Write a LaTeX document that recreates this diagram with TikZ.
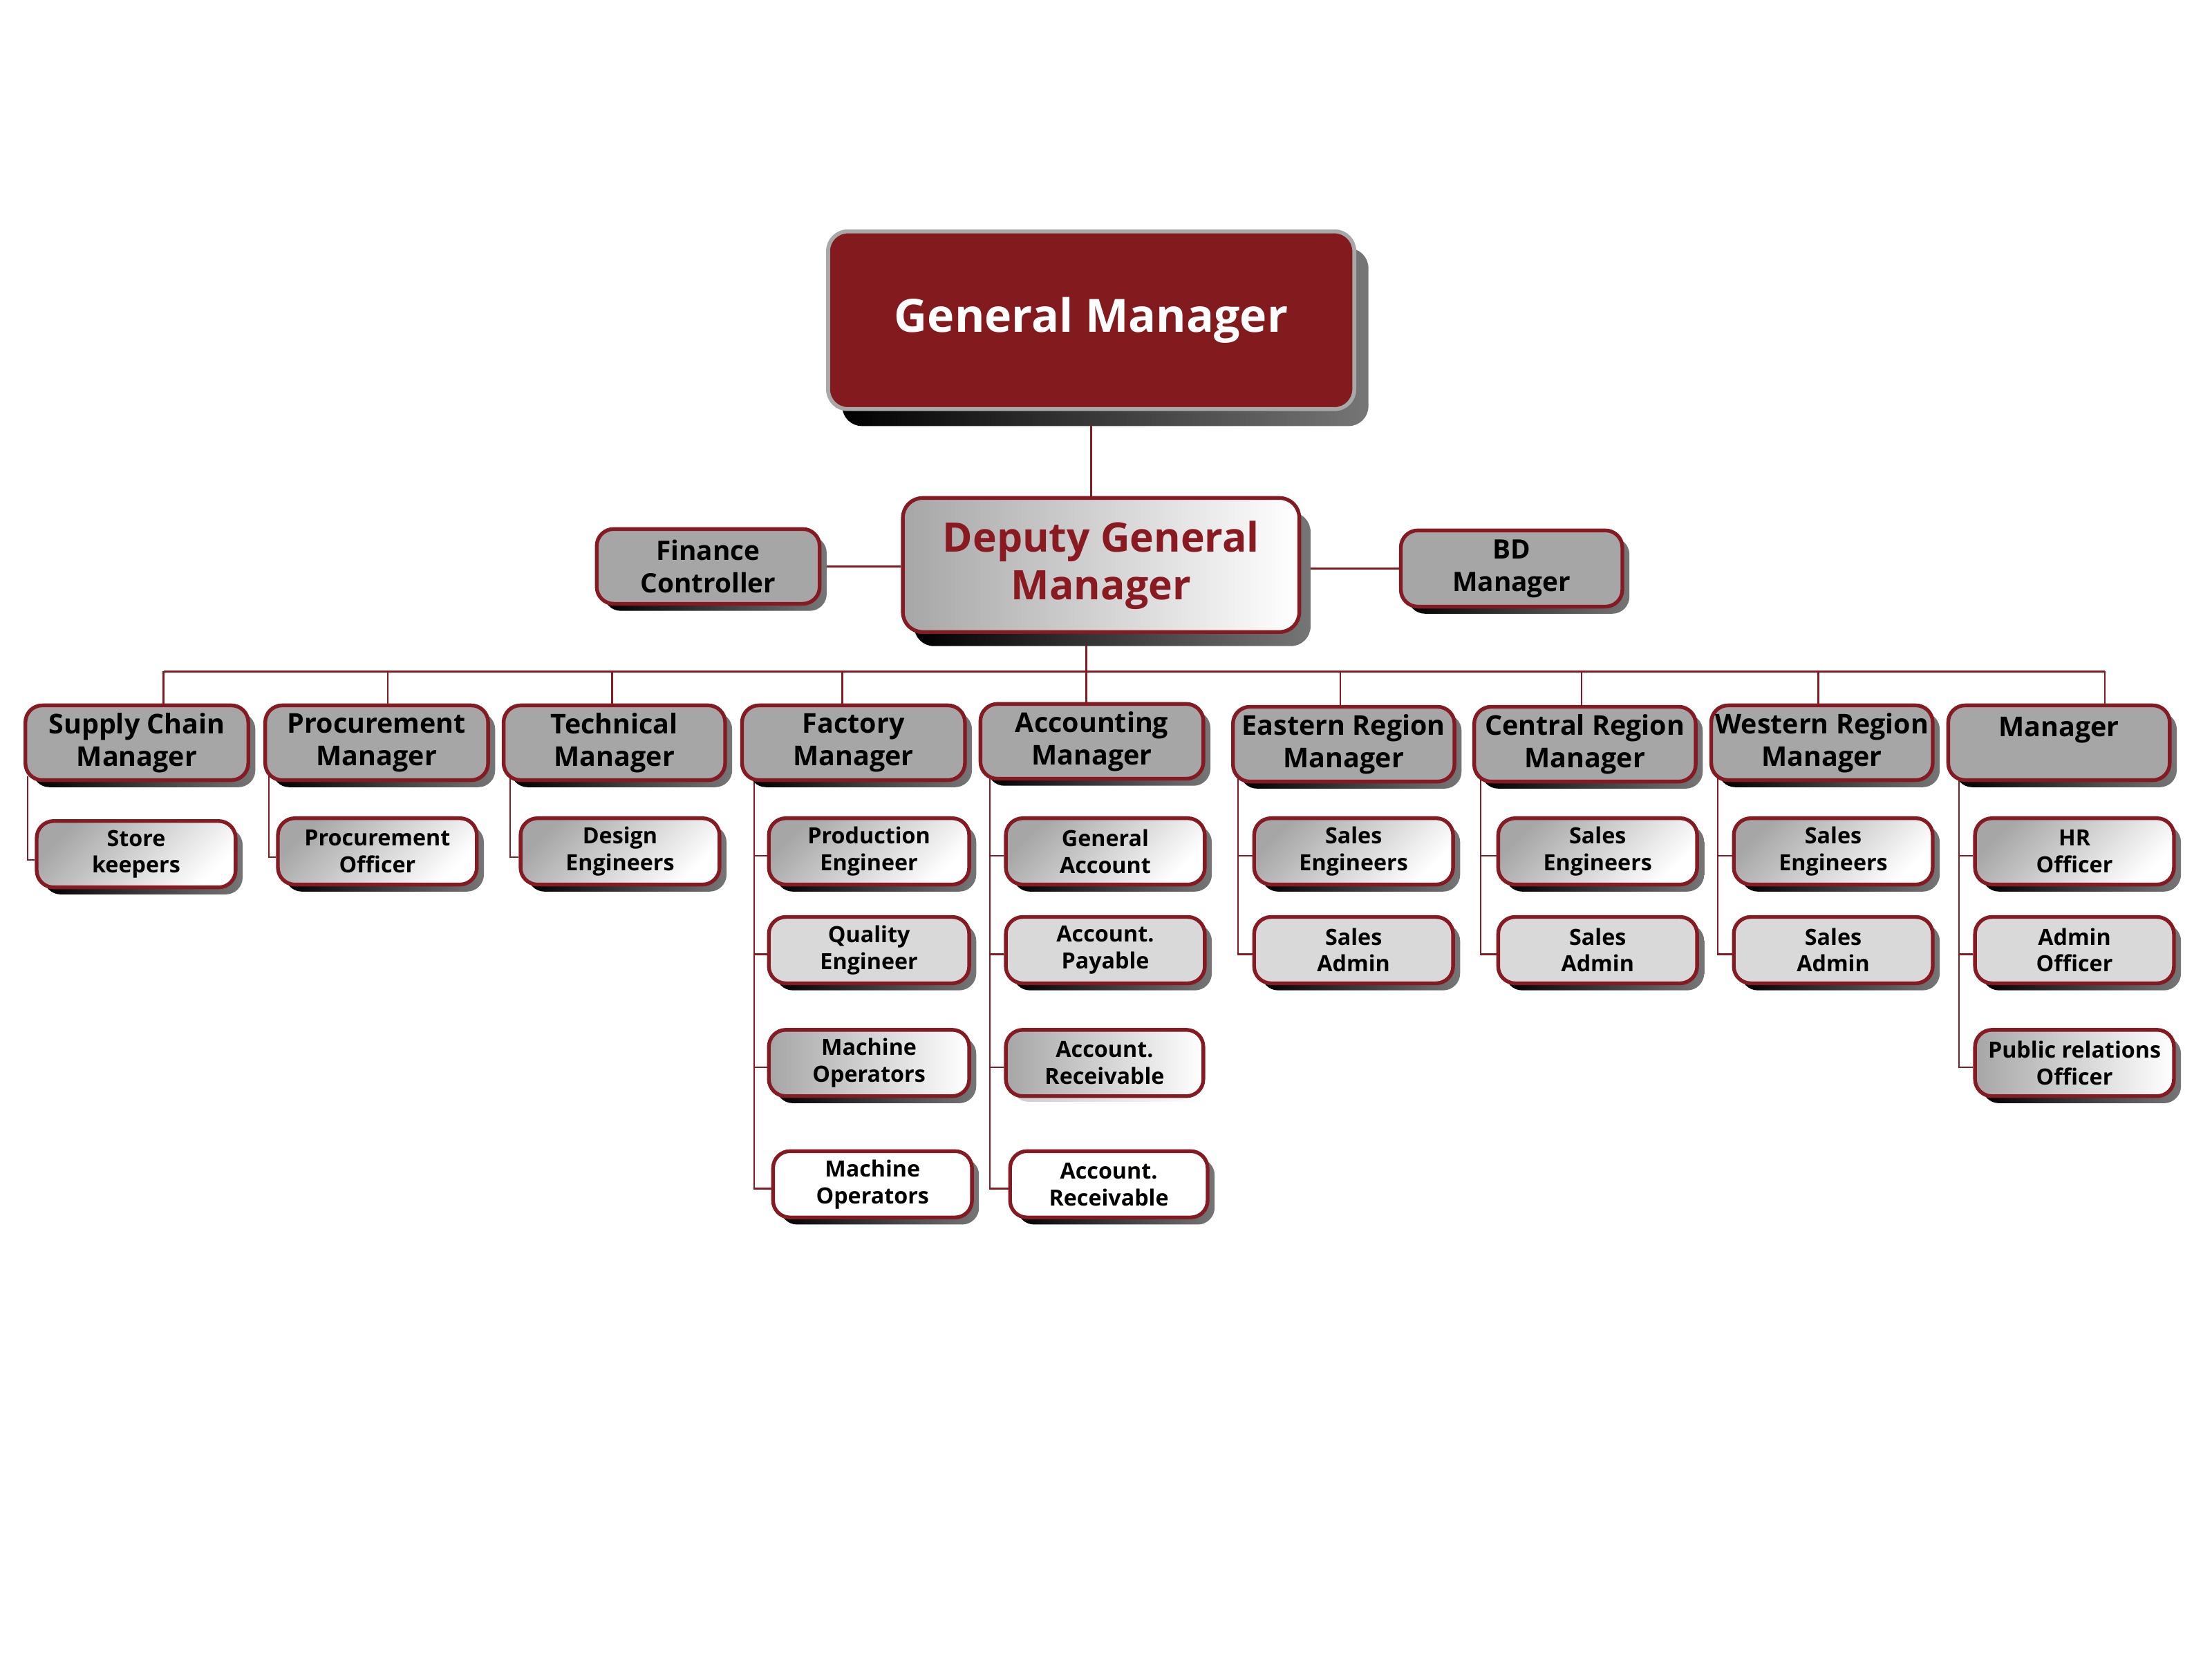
\documentclass[tikz,border=0pt]{standalone}
\usepackage{fontspec}
\setmainfont{Open Sans}
\usetikzlibrary{calc}
\definecolor{gmred}{HTML}{821A1E}
\definecolor{linered}{HTML}{861A22}
\definecolor{dgmtext}{HTML}{8A1A22}
\definecolor{boxgray}{HTML}{A6A6A6}
\definecolor{lightgray}{HTML}{D9D9D9}
\definecolor{shadowend}{HTML}{767676}
\definecolor{gmborder}{HTML}{A8A8A8}
\pgfdeclarelayer{bg}
\pgfsetlayers{bg,main}
\tikzset{
  conn/.style={draw=linered, line width=0.7pt},
  shadowshade/.style={left color=black, right color=shadowend},
  base/.style={rounded corners=0.24cm, draw=linered, line width=1.5pt, align=center, inner sep=0pt, text=black},
  mgr/.style={base, fill=boxgray, font=\bfseries\fontsize{11}{13.1}\selectfont},
  sidebox/.style={base, fill=boxgray, font=\bfseries\fontsize{10.8}{13.1}\selectfont},
  subfont/.style={font=\bfseries\fontsize{9.0}{10.8}\selectfont},
  subA/.style={base, subfont, top color=boxgray, bottom color=white, shading angle=45},
  subB/.style={base, subfont, fill=lightgray},
  subC/.style={base, subfont, left color=boxgray, right color=white},
  subD/.style={base, subfont, fill=white},
  gmbox/.style={rounded corners=0.28cm, draw=gmborder, line width=1.6pt, fill=gmred, text=white, align=center, inner sep=0pt, font=\bfseries\fontsize{18.5}{22}\selectfont},
  dgmbox/.style={base, rounded corners=0.28cm, left color=boxgray, right color=white, text=dgmtext, font=\bfseries\fontsize{16.4}{19.3}\selectfont},
}
\def\obr{0.24cm}
% name, x1, y1, x2, y2, shadow dx, shadow dy, style, text
\newcommand\orgbox[9]{%
  \pgfmathsetmacro\obx{(#2+#4)/2}%
  \pgfmathsetmacro\oby{(#3+#5)/2}%
  \pgfmathsetmacro\obw{(#4-#2)*0.02}%
  \pgfmathsetmacro\obh{(#5-#3)*0.02}%
  \shade[shadowshade, rounded corners=\obr] (#2+#6,#3+#7) rectangle (#4+#6,#5+#7);
  \node[#8, minimum width=\obw cm, minimum height=\obh cm] (#1) at (\obx,\oby) {#9};
}
\begin{document}
\begin{tikzpicture}[x=0.02cm, y=-0.02cm]
\begin{pgfonlayer}{bg}
\fill[white] (0,0) rectangle (1568,1176);
\end{pgfonlayer}
\useasboundingbox (0,0) rectangle (1568,1176);

% bus coordinates
\coordinate (busL) at (116,476);
\coordinate (busR) at (1492,476);
\coordinate (j1) at (116,476);
\coordinate (j2) at (275,476);
\coordinate (j3) at (434,476);
\coordinate (j4) at (597,476);
\coordinate (j5) at (770,476);
\coordinate (j6) at (950,476);
\coordinate (j7) at (1121,476);
\coordinate (j8) at (1289,476);
\coordinate (j9) at (1492,476);

\def\obr{0.28cm}
\orgbox{gm}{587}{164}{960}{290}{10}{12}{gmbox}{General Manager}
\orgbox{dgm}{640}{353}{921}{448}{8}{10}{dgmbox}{Deputy General\\Manager}
\def\obr{0.24cm}
\orgbox{fc}{423}{375}{581}{428}{5}{5}{sidebox}{Finance\\Controller}
\orgbox{bd}{993}{376}{1150}{430}{5}{5}{sidebox}{BD\\Manager}

% managers
\orgbox{m1}{18}{500}{176}{553}{5}{5}{mgr}{Supply Chain\\Manager}
\orgbox{m2}{188}{500}{346}{553}{5}{5}{mgr}{Procurement\\Manager}
\orgbox{m3}{357}{500}{514}{553}{5}{5}{mgr}{Technical\\Manager}
\orgbox{m4}{526}{500}{684}{553}{5}{5}{mgr}{Factory\\Manager}
\orgbox{m5}{695}{499}{853}{552}{5}{5}{mgr}{Accounting\\Manager}
\orgbox{m6}{874}{501}{1031}{554}{5}{5}{mgr}{Eastern Region\\Manager}
\orgbox{m7}{1045}{501}{1202}{554}{5}{5}{mgr}{Central Region\\Manager}
\orgbox{m8}{1213}{500}{1370}{553}{5}{5}{mgr}{Western Region\\Manager}
\orgbox{m9}{1381}{500}{1538}{553}{5}{5}{mgr}{Manager\\~}

% sub boxes
\orgbox{s1}{26}{582}{167}{629}{5}{5}{subA}{Store\\keepers}
\orgbox{s2}{197}{580}{338}{627}{5}{5}{subA}{Procurement\\Officer}
\orgbox{s3}{369}{580}{510}{627}{5}{5}{subA}{Design\\Engineers}
\orgbox{f1}{545}{580}{687}{627}{5}{5}{subA}{Production\\Engineer}
\orgbox{f2}{545}{650}{687}{697}{5}{5}{subB}{Quality\\Engineer}
\orgbox{f3}{545}{730}{687}{777}{5}{5}{subC}{Machine\\Operators}
\orgbox{f4}{548}{816}{689}{863}{5}{5}{subD}{Machine\\Operators}
\orgbox{a1}{713}{580}{854}{627}{5}{5}{subA}{General\\Account}
\orgbox{a2}{713}{650}{854}{697}{5}{5}{subB}{Account.\\Payable}
\tikzset{shadowshade/.style={left color=gray!40, right color=white}}
\orgbox{a3}{713}{730}{853}{777}{4}{4}{subC}{Account.\\Receivable}
\tikzset{shadowshade/.style={left color=black, right color=shadowend}}
\orgbox{a4}{716}{816}{856}{863}{5}{5}{subD}{Account.\\Receivable}
\orgbox{e1}{889}{580}{1030}{627}{5}{5}{subA}{Sales\\Engineers}
\orgbox{e2}{889}{650}{1030}{697}{5}{5}{subB}{Sales\\Admin}
\orgbox{c1}{1062}{580}{1203}{627}{5}{5}{subA}{Sales\\Engineers}
\orgbox{c2}{1062}{650}{1203}{697}{5}{5}{subB}{Sales\\Admin}
\orgbox{w1}{1229}{580}{1370}{627}{5}{5}{subA}{Sales\\Engineers}
\orgbox{w2}{1229}{650}{1370}{697}{5}{5}{subB}{Sales\\Admin}
\orgbox{h1}{1400}{580}{1541}{627}{5}{5}{subA}{HR\\Officer}
\orgbox{h2}{1400}{650}{1541}{697}{5}{5}{subB}{Admin\\Officer}
\orgbox{h3}{1400}{730}{1541}{777}{5}{5}{subC}{Public relations\\Officer}

% ---------- connectors (behind the boxes) ----------
\begin{pgfonlayer}{bg}
\draw[conn] (gm.south) -- (gm.south |- dgm.north);
\draw[conn] (fc.east) -- (fc.east -| dgm.west);
\draw[conn] (dgm.east |- bd.west) -- (bd.west);
\draw[conn] (busL) -- (busR);
\draw[conn] (j5) -- (j5 |- dgm.south);
\foreach \i in {1,...,9}{
  \draw[conn] (j\i) -- (j\i |- m\i.north);
}
\coordinate (t1) at ($(m1.south west)+(3,-4)$);
\coordinate (t2) at ($(m2.south west)+(4,-4)$);
\coordinate (t3) at ($(m3.south west)+(6,-4)$);
\coordinate (t4) at ($(m4.south west)+(10,-4)$);
\coordinate (t5) at ($(m5.south west)+(8,-4)$);
\coordinate (t6) at ($(m6.south west)+(5,-4)$);
\coordinate (t7) at ($(m7.south west)+(6,-4)$);
\coordinate (t8) at ($(m8.south west)+(6,-4)$);
\coordinate (t9) at ($(m9.south west)+(9,-4)$);
\draw[conn] (t1) |- ($(s1.west)+(0,4)$);
\draw[conn] (t2) |- ($(s2.west)+(0,4)$);
\draw[conn] (t3) |- ($(s3.west)+(0,4)$);
\foreach \n in {f1,f2,f3,f4}{\draw[conn] (t4) |- ($(\n.west)+(0,3)$);}
\foreach \n in {a1,a2,a3,a4}{\draw[conn] (t5) |- ($(\n.west)+(0,3)$);}
\foreach \n in {e1,e2}{\draw[conn] (t6) |- ($(\n.west)+(0,3)$);}
\foreach \n in {c1,c2}{\draw[conn] (t7) |- ($(\n.west)+(0,3)$);}
\foreach \n in {w1,w2}{\draw[conn] (t8) |- ($(\n.west)+(0,3)$);}
\foreach \n in {h1,h2,h3}{\draw[conn] (t9) |- ($(\n.west)+(0,3)$);}
\end{pgfonlayer}
\end{tikzpicture}
\end{document}
